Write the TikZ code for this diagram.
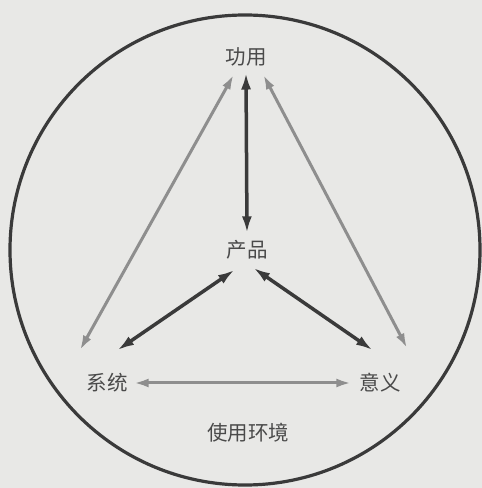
\documentclass[tikz,border=0pt]{standalone}
\usepackage{fontspec}
\newfontfamily\cjk{Noto Sans CJK SC}
\usetikzlibrary{arrows.meta}
\definecolor{bgpaper}{HTML}{E8E8E6}
\definecolor{darkarr}{HTML}{3A3A3A}
\definecolor{greyarr}{HTML}{8E8E8E}
\definecolor{inktext}{HTML}{4A4A4A}
\begin{document}
\begin{tikzpicture}[x=1pt,y=1pt,line join=round,
	font=\cjk\fontsize{20.5}{22}\selectfont]
	\tikzset{every node/.style={inner sep=0pt,text=inktext},
		darkline/.style={{Latex[length=17pt,width=10pt]}-{Latex[length=17pt,width=10pt]},draw=darkarr,line width=3.5pt},
		greyline/.style={{Latex[length=15pt,width=9pt]}-{Latex[length=15pt,width=9pt]},draw=greyarr,line width=3pt}}
	\fill[bgpaper] (0,0) rectangle (482,488);
	\useasboundingbox (0,0) rectangle (482,488);
	\draw[darkarr,line width=3.2pt] (245,238) circle (235);
	\node (gongyong) at (246,431) {功用};
	\node (chanpin) at (247,238) {产品};
	\node (xitong) at (107,105) {系统};
	\node (yiyi) at (380,105) {意义};
	\node (huanjing) at (248,55) {使用环境};
	% product to the three corners
	\draw[darkline] ([yshift=-6pt]gongyong.south) -- ([yshift=7pt]chanpin.north);
	\draw[darkline] ([shift={(8.5,-10)}]chanpin.south west) -- ([shift={(-10.5,23)}]xitong.north east);
	\draw[darkline] ([shift={(-14.5,-8)}]chanpin.south east) -- ([shift={(13.5,23)}]yiyi.north west);
	% outer triangle
	\draw[greyline] ([shift={(8.5,-8)}]gongyong.south west) -- ([shift={(-6.5,23)}]xitong.north west);
	\draw[greyline] ([shift={(-3.5,-8)}]gongyong.south east) -- ([shift={(6.5,25)}]yiyi.north east);
	\draw[greyline] ([xshift=6pt]xitong.east) -- ([xshift=-8pt]yiyi.west);
\end{tikzpicture}
\end{document}
